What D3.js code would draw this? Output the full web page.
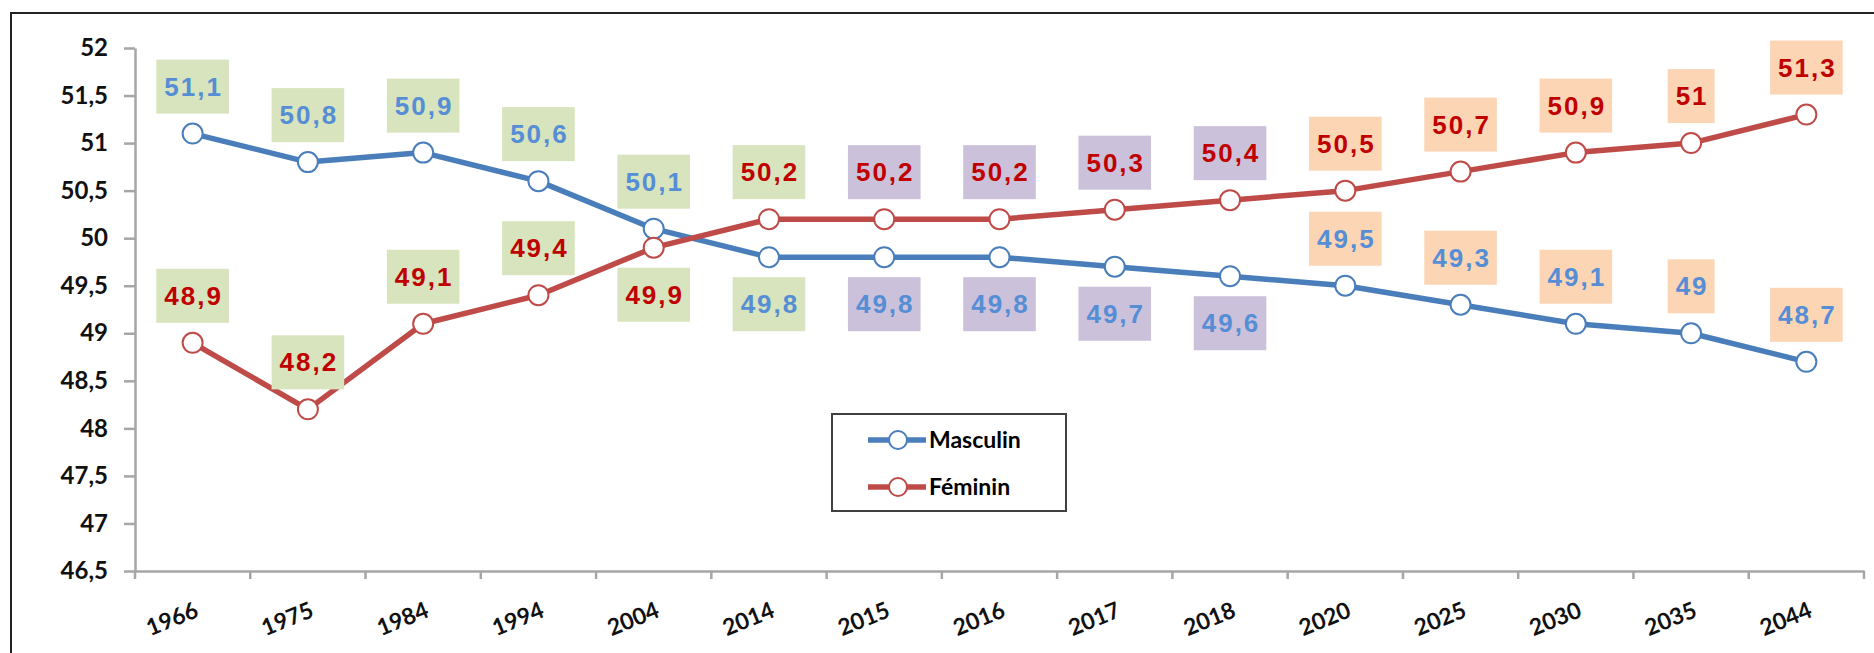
<!DOCTYPE html>
<html lang="fr">
<head>
<meta charset="utf-8">
<title>Masculin / Féminin</title>
<style>
  body { margin: 0; background: #fff; }
  svg { display: block; }
  .axis text { font-family: Lato, "Open Sans", sans-serif; font-weight: 700; fill: #111; }
  .lbl { font-family: "Liberation Sans", Arial, sans-serif; font-weight: 700; font-size: 26px; letter-spacing: 2px; }
  .leg { font-family: Lato, "Open Sans", sans-serif; font-weight: 700; font-size: 23px; fill: #000; }
</style>
</head>
<body>
<div id="chart"></div>
<script src="https://cdnjs.cloudflare.com/ajax/libs/d3/7.8.5/d3.min.js"></script>
<script>
// data
var years = ["1966", "1975", "1984", "1994", "2004", "2014", "2015", "2016", "2017", "2018", "2020", "2025", "2030", "2035", "2044"];
var masculin = [51.1, 50.8, 50.9, 50.6, 50.1, 49.8, 49.8, 49.8, 49.7, 49.6, 49.5, 49.3, 49.1, 49, 48.7];
var feminin = [48.9, 48.2, 49.1, 49.4, 49.9, 50.2, 50.2, 50.2, 50.3, 50.4, 50.5, 50.7, 50.9, 51, 51.3];
// which side of the point each value label sits
var sideMasculin = ["above", "above", "above", "above", "above", "below", "below", "below", "below", "below", "above", "above", "above", "above", "above"];
var sideFeminin = ["above", "above", "above", "above", "below", "above", "above", "above", "above", "above", "above", "above", "above", "above", "above"];
// period of each year (colour of label boxes)
var periods = ["rp", "rp", "rp", "rp", "rp", "rp", "est", "est", "est", "est", "proj", "proj", "proj", "proj", "proj"];
var yTicks = [46.5, 47, 47.5, 48, 48.5, 49, 49.5, 50, 50.5, 51, 51.5, 52];

var w = 1874, h = 653;
var plotLeft = 135, plotRight = 1864, plotTop = 48, plotBottom = 571;

var boxColor = { rp: "#d7e4bd", est: "#ccc1da", proj: "#fcd5b5" };
var series = [
  { name: "Masculin", values: masculin, side: sideMasculin, line: "#4a7ebb", text: "#558ed5" },
  { name: "Féminin", values: feminin, side: sideFeminin, line: "#be4b48", text: "#c00000" }
];

var fmt = function(d) { return String(d).replace(".", ","); };

var svg = d3.select("#chart").append("svg")
  .attr("width", w)
  .attr("height", h);

// outer frame
svg.append("rect")
  .attr("x", 11).attr("y", 13)
  .attr("width", w).attr("height", h)
  .attr("fill", "#fff")
  .attr("stroke", "#222")
  .attr("stroke-width", 2);

var x = d3.scaleBand().domain(years).range([plotLeft, plotRight]).padding(0);
var y = d3.scaleLinear().domain([46.5, 52]).range([plotBottom, plotTop]);
var bw = x.bandwidth();
var cx = function(i) { return x(years[i]) + bw / 2; };

// y axis
var yAxis = d3.axisLeft(y)
  .tickValues(yTicks)
  .tickSize(11)
  .tickSizeOuter(0)
  .tickPadding(16)
  .tickFormat(fmt);

var gy = svg.append("g")
  .attr("class", "axis")
  .attr("transform", "translate(" + plotLeft + ",0)")
  .call(yAxis);
gy.attr("font-size", 24);
gy.select(".domain").attr("stroke", "#a6a6a6").attr("stroke-width", 2.5);
gy.selectAll(".tick line").attr("stroke", "#a6a6a6").attr("stroke-width", 2.5);

// x axis: labels centred in bands, ticks on band edges
var xAxis = d3.axisBottom(x).tickSize(0).tickSizeOuter(0);
var gx = svg.append("g")
  .attr("class", "axis")
  .attr("transform", "translate(0," + plotBottom + ")")
  .call(xAxis);
gx.attr("font-size", 23);
gx.select(".domain").attr("stroke", "#a6a6a6").attr("stroke-width", 2.5);
gx.selectAll(".tick text")
  .attr("y", 0)
  .attr("dy", "0.72em")
  .attr("text-anchor", "end")
  .attr("transform", "translate(1,30) rotate(-22)");

var edges = years.map(function(d) { return x(d); }).concat([plotRight]);
gx.selectAll(".edge")
  .data(edges)
  .enter()
  .append("line")
  .attr("class", "edge")
  .attr("x1", function(d) { return d; })
  .attr("x2", function(d) { return d; })
  .attr("y1", 0)
  .attr("y2", 8)
  .attr("stroke", "#a6a6a6")
  .attr("stroke-width", 2.5);

// lines and markers
var line = d3.line()
  .x(function(d, i) { return cx(i); })
  .y(function(d) { return y(d); });

series.forEach(function(s) {
  svg.append("path")
    .datum(s.values)
    .attr("d", line)
    .attr("fill", "none")
    .attr("stroke", s.line)
    .attr("stroke-width", 5.5)
    .attr("stroke-linejoin", "round");
});

series.forEach(function(s) {
  svg.selectAll(null)
    .data(s.values)
    .enter()
    .append("circle")
    .attr("cx", function(d, i) { return cx(i); })
    .attr("cy", function(d) { return y(d); })
    .attr("r", 10)
    .attr("fill", "#fff")
    .attr("stroke", s.line)
    .attr("stroke-width", 2);
});

// value labels in coloured boxes
var gap = 20, boxH = 54;
series.forEach(function(s) {
  s.values.forEach(function(v, i) {
    var px = cx(i), py = y(v);
    var boxTop = s.side[i] == "above" ? py - gap - boxH : py + gap;
    var g = svg.append("g");
    var t = g.append("text")
      .attr("class", "lbl")
      .attr("x", px + 1)
      .attr("y", boxTop + boxH / 2 + 9)
      .attr("text-anchor", "middle")
      .attr("fill", s.text)
      .text(fmt(v));
    var tw = t.node().getComputedTextLength();
    g.insert("rect", "text")
      .attr("x", px - tw / 2 - 7)
      .attr("y", boxTop)
      .attr("width", tw + 14)
      .attr("height", boxH)
      .attr("fill", boxColor[periods[i]]);
  });
});

// legend
var legend = svg.append("g").attr("transform", "translate(832,414)");
legend.append("rect")
  .attr("width", 234)
  .attr("height", 97)
  .attr("fill", "#fff")
  .attr("stroke", "#404040")
  .attr("stroke-width", 2);

series.forEach(function(s, k) {
  var ly = 26 + k * 47;
  legend.append("line")
    .attr("x1", 36).attr("x2", 94)
    .attr("y1", ly).attr("y2", ly)
    .attr("stroke", s.line)
    .attr("stroke-width", 5.5);
  legend.append("circle")
    .attr("cx", 66).attr("cy", ly)
    .attr("r", 9)
    .attr("fill", "#fff")
    .attr("stroke", s.line)
    .attr("stroke-width", 2);
  legend.append("text")
    .attr("class", "leg")
    .attr("x", 97)
    .attr("y", ly + 8)
    .text(s.name);
});
</script>
</body>
</html>
